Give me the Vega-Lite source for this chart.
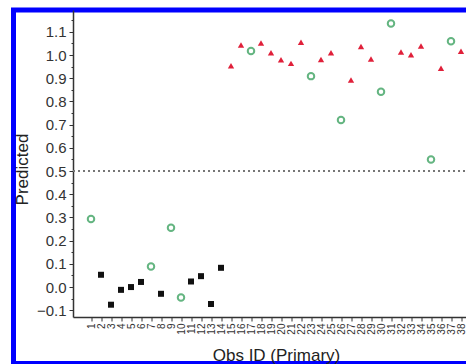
{
  "$schema": "https://vega.github.io/schema/vega-lite/v6.json",
  "autosize": {"type": "none"},
  "width": 455,
  "height": 353.5,
  "padding": {"left": 13.5, "top": 10, "right": 0, "bottom": 0},
  "background": "white",
  "config": {
    "view": {"stroke": "#0000ff", "strokeWidth": 5},
    "font": "Liberation Sans",
    "axis": {"grid": false, "labelOverlap": false, "domainColor": "#333", "tickColor": "#333", "labelColor": "#333", "titleColor": "#222", "labelFont": "Liberation Sans", "titleFont": "Liberation Sans", "titleFontWeight": "normal"}
  },
  "data": {
    "values": [
      {"obs": 1, "pred": 0.293, "cls": "mis"},
      {"obs": 2, "pred": 0.053, "cls": "inactive"},
      {"obs": 3, "pred": -0.076, "cls": "inactive"},
      {"obs": 4, "pred": -0.012, "cls": "inactive"},
      {"obs": 5, "pred": 0.0, "cls": "inactive"},
      {"obs": 6, "pred": 0.022, "cls": "inactive"},
      {"obs": 7, "pred": 0.089, "cls": "mis"},
      {"obs": 8, "pred": -0.029, "cls": "inactive"},
      {"obs": 9, "pred": 0.256, "cls": "mis"},
      {"obs": 10, "pred": -0.045, "cls": "mis"},
      {"obs": 11, "pred": 0.024, "cls": "inactive"},
      {"obs": 12, "pred": 0.047, "cls": "inactive"},
      {"obs": 13, "pred": -0.073, "cls": "inactive"},
      {"obs": 14, "pred": 0.083, "cls": "inactive"},
      {"obs": 15, "pred": 0.954, "cls": "active"},
      {"obs": 16, "pred": 1.043, "cls": "active"},
      {"obs": 17, "pred": 1.017, "cls": "mis"},
      {"obs": 18, "pred": 1.052, "cls": "active"},
      {"obs": 19, "pred": 1.010, "cls": "active"},
      {"obs": 20, "pred": 0.980, "cls": "active"},
      {"obs": 21, "pred": 0.964, "cls": "active"},
      {"obs": 22, "pred": 1.055, "cls": "active"},
      {"obs": 23, "pred": 0.909, "cls": "mis"},
      {"obs": 24, "pred": 0.981, "cls": "active"},
      {"obs": 25, "pred": 1.010, "cls": "active"},
      {"obs": 26, "pred": 0.720, "cls": "mis"},
      {"obs": 27, "pred": 0.892, "cls": "active"},
      {"obs": 28, "pred": 1.037, "cls": "active"},
      {"obs": 29, "pred": 0.983, "cls": "active"},
      {"obs": 30, "pred": 0.842, "cls": "mis"},
      {"obs": 31, "pred": 1.136, "cls": "mis"},
      {"obs": 32, "pred": 1.013, "cls": "active"},
      {"obs": 33, "pred": 1.001, "cls": "active"},
      {"obs": 34, "pred": 1.039, "cls": "active"},
      {"obs": 35, "pred": 0.550, "cls": "mis"},
      {"obs": 36, "pred": 0.943, "cls": "active"},
      {"obs": 37, "pred": 1.059, "cls": "mis"},
      {"obs": 38, "pred": 1.016, "cls": "active"}
    ]
  },
  "encoding": {
    "x": {
      "field": "obs", "type": "quantitative", "title": "Obs ID (Primary)",
      "scale": {"domain": [-0.8, 39.8], "range": [59.5, 465.5], "nice": false, "zero": false},
      "axis": {
        "offset": -46.5,
        "values": [1,2,3,4,5,6,7,8,9,10,11,12,13,14,15,16,17,18,19,20,21,22,23,24,25,26,27,28,29,30,31,32,33,34,35,36,37,38],
        "format": "d",
        "labelAngle": -90,
        "labelFontSize": 10,
        "labelPadding": 2,
        "tickSize": 4,
        "domainWidth": 1.5,
        "labelOverlap": {"expr": "false"},
        "labelFlush": false,
        "labelBound": false,
        "titleFontSize": 17,
        "titlePadding": 13
      }
    },
    "y": {
      "field": "pred", "type": "quantitative", "title": "Predicted",
      "scale": {"domain": [-0.129, 1.194], "range": [307, 0], "nice": false, "zero": false},
      "axis": {
        "offset": -59.5,
        "values": [-0.1, -0.05, 0, 0.05, 0.1, 0.15, 0.2, 0.25, 0.3, 0.35, 0.4, 0.45, 0.5, 0.55, 0.6, 0.65, 0.7, 0.75, 0.8, 0.85, 0.9, 0.95, 1.0, 1.05, 1.1, 1.15],
        "labelExpr": "abs(datum.value*10 - round(datum.value*10)) < 0.01 ? format(datum.value, '.1f') : ''",
        "tickSize": {"condition": {"test": "abs(datum.value*10 - round(datum.value*10)) < 0.01", "value": 4}, "value": 2},
        "labelFontSize": 15,
        "labelPadding": 3,
        "domainWidth": 1.5,
        "labelOverlap": {"expr": "false"},
        "labelFlush": false,
        "labelBound": false,
        "titleFontSize": 17,
        "titlePadding": 5,
        "titleY": 159
      }
    }
  },
  "layer": [
    {
      "mark": {"type": "rule", "strokeDash": [2, 3], "color": "#777", "strokeWidth": 1.2},
      "encoding": {
        "y": {"datum": 0.5, "type": "quantitative"},
        "x": {"datum": -0.8, "type": "quantitative"},
        "x2": {"datum": 39.8}
      }
    },
    {
      "mark": {"type": "point", "filled": false, "strokeWidth": 2},
      "transform": [{"filter": "datum.cls === 'mis'"}],
      "encoding": {
        "color": {"value": "#23964c"},
        "shape": {"value": "circle"},
        "size": {"value": 42}
      }
    },
    {
      "mark": {"type": "point", "filled": true, "opacity": 1},
      "transform": [{"filter": "datum.cls === 'active'"}],
      "encoding": {
        "color": {"value": "#e0203a"},
        "shape": {"value": "triangle-up"},
        "size": {"value": 40}
      }
    },
    {
      "mark": {"type": "point", "filled": true, "opacity": 1},
      "transform": [{"filter": "datum.cls === 'inactive'"}],
      "encoding": {
        "color": {"value": "#111"},
        "shape": {"value": "square"},
        "size": {"value": 36}
      }
    }
  ]
}
